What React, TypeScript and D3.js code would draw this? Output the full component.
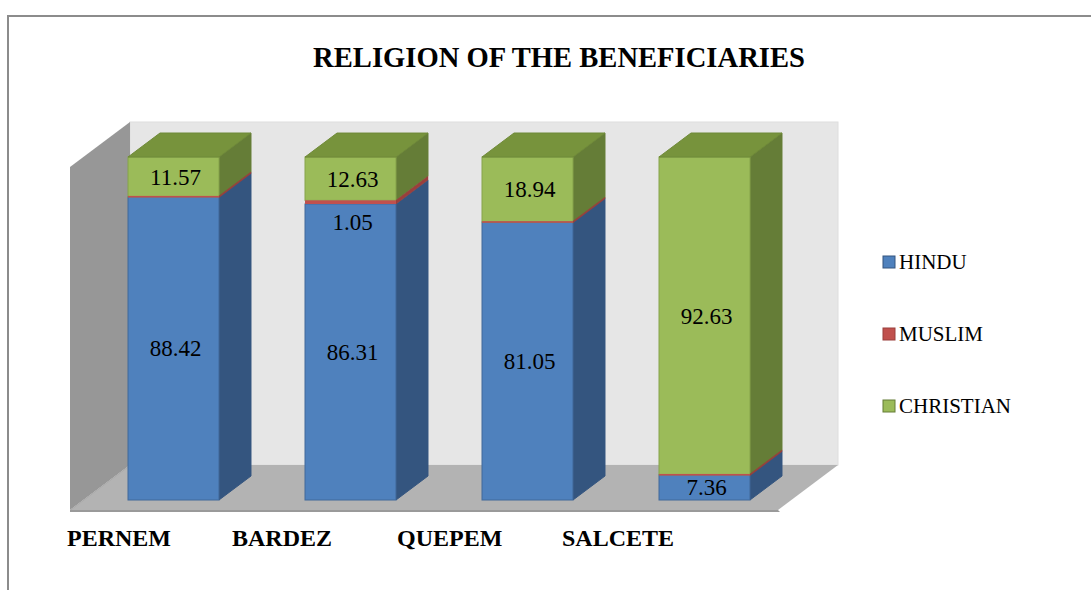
import React from 'react';
import * as d3 from 'd3';

const categories = ['PERNEM', 'BARDEZ', 'QUEPEM', 'SALCETE'];
const hindu = [88.42, 86.31, 81.05, 7.36];
const muslim = [0.01, 1.05, 0.01, 0.01];
const christian = [11.57, 12.63, 18.94, 92.63];
const seriesNames = ['HINDU', 'MUSLIM', 'CHRISTIAN'];
const title = 'RELIGION OF THE BENEFICIARIES';

const palette = [
  { front: '#4f81bd', side: '#34557f', top: '#4473ac', stroke: '#41699a' },
  { front: '#c0504d', side: '#9a3f3c', top: '#a94543', stroke: '#b8423f' },
  { front: '#9bbb59', side: '#657d37', top: '#77933c', stroke: '#87a44c' },
];

const W = 1091;
const H = 590;
const FONT = "'Liberation Serif', 'Times New Roman', Times, 'DejaVu Serif', serif";

export default function App() {
  const rows = categories.map((c, i) => ({ cat: c, HINDU: hindu[i], MUSLIM: muslim[i], CHRISTIAN: christian[i] }));
  const stack = d3.stack<any>().keys(seriesNames)(rows);

  const x = d3.scaleBand<string>().domain(categories).range([85, 793]).paddingInner(0.486).paddingOuter(0.243);
  const y = d3.scaleLinear().domain([0, 100]).range([500, 157]);
  const labelX = d3.scalePoint<string>().domain(categories).range([67, 562]);
  const legendY = d3.scalePoint<string>().domain(seriesNames).range([262, 406]);

  const bdx = 32, bdy = -24;
  const fdx = 60, fdy = -45;
  const floorFrontY = 510;
  const wallLeft = 70, wallRight = 778;
  const backTop = 122;

  const pts = (p: number[][]) => p.map((q) => q.join(',')).join(' ');

  const bars: React.ReactNode[] = [];
  const labels: React.ReactNode[] = [];
  const drawOrder = [0, 2, 1];
  categories.forEach((c, ci) => {
    const x0 = x(c)!;
    const x1 = x0 + x.bandwidth();
    drawOrder.forEach((si) => {
      const s = stack[si];
      const [v0, v1] = s[ci];
      let yb = y(v0);
      let yt = y(v1);
      if (yb - yt < 1.6) {
        const m = (yb + yt) / 2;
        yb = m + 0.8;
        yt = m - 0.8;
      }
      const col = palette[si];
      const isTop = si === stack.length - 1;
      bars.push(
        <g key={`${ci}-${si}`}>
          <polygon
            points={pts([[x1, yb], [x1 + bdx, yb + bdy], [x1 + bdx, yt + bdy], [x1, yt]])}
            fill={col.side}
            stroke={col.side}
            strokeWidth={si === 1 ? 0.5 : 1}
          />
          <rect x={x0} y={yt} width={x1 - x0} height={yb - yt} fill={col.front} stroke={si === 1 ? 'none' : col.stroke} strokeWidth={1} />
          {isTop && (
            <polygon
              points={pts([[x0, yt], [x0 + bdx, yt + bdy], [x1 + bdx, yt + bdy], [x1, yt]])}
              fill={col.top}
              stroke={'#6f8a38'}
              strokeWidth={1}
            />
          )}
        </g>
      );
      const val = s[ci].data[seriesNames[si]] as number;
      if (val >= 1) {
        const cy = (yb + yt) / 2 + (si === 1 ? 20 : 0);
        labels.push(
          <text key={`l${ci}-${si}`} x={(x0 + x1) / 2 + 2} y={cy + 8} textAnchor="middle" style={{ fontFamily: FONT }} fontSize={23} fill="#000">
            {val.toFixed(2)}
          </text>
        );
      }
    });
  });

  return (
    <svg width={W} height={H} style={{ position: 'absolute', left: 0, top: 0 }}>
      <rect x={0} y={0} width={W} height={H} fill="#fff" />
      <rect x={8} y={16} width={W + 20} height={H + 20} fill="none" stroke="#8c8c8c" strokeWidth={2} />
      <text x={559} y={67} textAnchor="middle" style={{ fontFamily: FONT }} fontWeight="bold" fontSize={28.6} fill="#000">
        {title}
      </text>
      <rect x={wallLeft + fdx} y={backTop} width={wallRight - wallLeft} height={floorFrontY + fdy - backTop} fill="#e6e6e6" stroke="#dedede" strokeWidth={1} />
      <polygon
        points={pts([[wallLeft, backTop - fdy], [wallLeft + fdx, backTop], [wallLeft + fdx, floorFrontY + fdy], [wallLeft, floorFrontY]])}
        fill="#979797"
      />
      <polygon
        points={pts([[wallLeft, floorFrontY], [wallLeft + fdx, floorFrontY + fdy], [wallRight + fdx, floorFrontY + fdy], [wallRight, floorFrontY]])}
        fill="#b3b3b3"
      />
      <polygon
        points={pts([[wallLeft, floorFrontY], [wallRight, floorFrontY], [wallRight + 2, floorFrontY + 2], [wallLeft, floorFrontY + 2]])}
        fill="#9a9a9a"
      />
      <polygon
        points={pts([[wallLeft, floorFrontY], [wallLeft + fdx, floorFrontY + fdy], [wallLeft + fdx + 1, floorFrontY + fdy], [wallLeft + 1, floorFrontY]])}
        fill="#a5a5a5"
      />
      {bars}
      {labels}
      {categories.map((c) => (
        <text key={c} x={labelX(c)} y={546} style={{ fontFamily: FONT }} fontWeight="bold" fontSize={24} fill="#000">
          {c}
        </text>
      ))}
      {seriesNames.map((s, i) => (
        <g key={s}>
          <rect x={883} y={legendY(s)! - 6} width={12} height={12} fill={palette[i].front} stroke={palette[i].side} strokeWidth={1} />
          <text x={899} y={legendY(s)! + 7} style={{ fontFamily: FONT }} fontSize={21} fill="#000">
            {s}
          </text>
        </g>
      ))}
    </svg>
  );
}
